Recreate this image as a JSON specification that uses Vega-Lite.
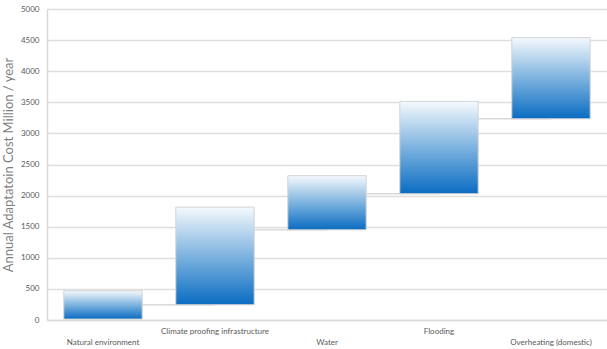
{
  "$schema": "https://vega.github.io/schema/vega-lite/v6.json",
  "width": 560,
  "height": 311,
  "autosize": "none",
  "padding": {"left": 47, "top": 9, "right": 0, "bottom": 29},
  "background": "white",
  "config": {"view": {"stroke": null}, "font": "Lato"},
  "datasets": {
    "bars": [
      {"category": "Natural environment", "low": 15, "high": 470},
      {"category": "Climate proofing infrastructure", "low": 245, "high": 1815},
      {"category": "Water", "low": 1450, "high": 2320},
      {"category": "Flooding", "low": 2030, "high": 3515},
      {"category": "Overheating (domestic)", "low": 3235, "high": 4540}
    ],
    "links": [
      {"from": "Natural environment", "to": "Climate proofing infrastructure", "level": 245},
      {"from": "Climate proofing infrastructure", "to": "Water", "level": 1450},
      {"from": "Water", "to": "Flooding", "level": 2030},
      {"from": "Flooding", "to": "Overheating (domestic)", "level": 3235}
    ]
  },
  "encoding": {
    "y": {
      "type": "quantitative",
      "scale": {"domain": [0, 5000], "nice": false},
      "axis": {
        "title": "Annual Adaptatoin Cost Million / year",
        "titleFont": "Lato",
        "titleFontSize": 13,
        "titleFontWeight": "normal",
        "titleColor": "#7f7f7f",
        "titlePadding": 5,
        "values": [0, 500, 1000, 1500, 2000, 2500, 3000, 3500, 4000, 4500, 5000],
        "tickCount": 20,
        "format": "d",
        "labelOverlap": false,
        "labelFont": "Lato",
        "labelFontSize": 8,
        "labelColor": "#595959",
        "labelPadding": 8,
        "ticks": false,
        "domain": true,
        "domainColor": "#d9d9d9",
        "domainWidth": 1.5,
        "grid": true,
        "gridColor": "#dedede",
        "gridWidth": 1.5
      }
    }
  },
  "layer": [
    {
      "data": {"name": "links"},
      "mark": {"type": "rule", "color": "#d9d9d9", "strokeWidth": 1.5},
      "encoding": {
        "x": {"field": "from", "type": "nominal", "sort": null},
        "x2": {"field": "to"},
        "y": {"field": "level"}
      }
    },
    {
      "data": {"name": "bars"},
      "mark": {
        "type": "bar",
        "fill": {
          "gradient": "linear",
          "x1": 0, "y1": 0, "x2": 0, "y2": 1,
          "stops": [
            {"offset": 0, "color": "#f5f9fd"},
            {"offset": 0.5, "color": "#7db3df"},
            {"offset": 1, "color": "#0a6cc2"}
          ]
        },
        "stroke": "#d4d4d4",
        "strokeWidth": 1
      },
      "encoding": {
        "x": {
          "field": "category",
          "type": "nominal",
          "sort": null,
          "scale": {"paddingInner": 0.3, "paddingOuter": 0.15},
          "axis": {
            "title": null,
            "labelAngle": 0,
            "labelAlign": "center",
            "labelBaseline": "top",
            "labelFont": "Lato",
            "labelFontSize": 8,
            "labelColor": "#595959",
            "ticks": false,
            "domain": true,
            "domainColor": "#d9d9d9",
            "domainWidth": 1.5,
            "labelPadding": {
              "condition": {"test": "datum.value === 'Natural environment' || datum.value === 'Water' || datum.value === 'Overheating (domestic)'", "value": 18},
              "value": 7
            },
            "labelOverlap": false,
            "labelLimit": 300
          }
        },
        "y": {"field": "low"},
        "y2": {"field": "high"}
      }
    }
  ]
}
